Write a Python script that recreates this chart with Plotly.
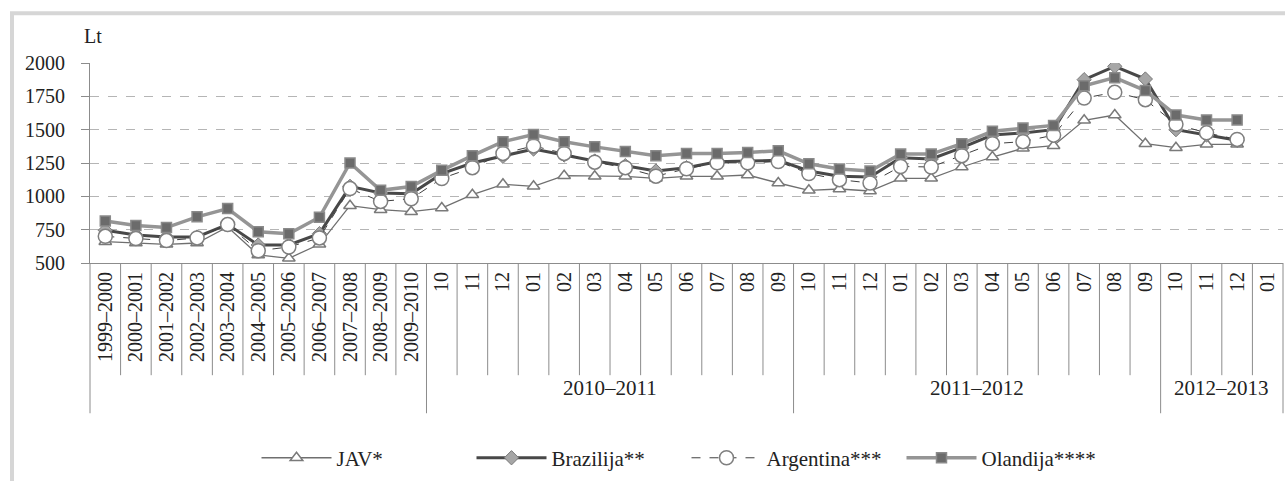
import plotly.graph_objects as go

# categories: annual seasons, then monthly values grouped by season
annual = ["1999–2000", "2000–2001", "2001–2002", "2002–2003", "2003–2004", "2004–2005",
          "2005–2006", "2006–2007", "2007–2008", "2008–2009", "2009–2010"]
months_full = ["10", "11", "12", "01", "02", "03", "04", "05", "06", "07", "08", "09"]
months_part = ["10", "11", "12", "01"]
groups = ["2010–2011", "2011–2012", "2012–2013"]

month_labels = months_full + months_full + months_part
categories = [f"a{i}" for i in range(len(annual))] + [f"m{i}" for i in range(len(month_labels))]
tick_text = annual + month_labels

jav = [660, 650, 640, 650, 770, 560, 535, 640, 930, 900, 885,
       912, 1012, 1090, 1075, 1155, 1150, 1150, 1135, 1150, 1150, 1160, 1100,
       1045, 1055, 1040, 1135, 1135, 1220, 1295, 1360, 1380, 1570, 1610, 1395,
       1365, 1390, 1390, None]
brazilija = [745, 710, 695, 695, 790, 635, 635, 720, 1075, 1025, 1020,
             1170, 1250, 1300, 1355, 1310, 1265, 1230, 1190, 1215, 1260, 1265, 1270,
             1190, 1150, 1145, 1290, 1280, 1365, 1460, 1475, 1500, 1875, 1975, 1880,
             1500, 1460, 1420, None]
argentina = [700, 683, 668, 688, 788, 592, 620, 688, 1058, 962, 982,
             1134, 1215, 1322, 1378, 1322, 1256, 1215, 1151, 1207, 1251, 1251, 1261,
             1171, 1125, 1100, 1224, 1220, 1305, 1395, 1410, 1459, 1737, 1780, 1725,
             1540, 1476, 1427, None]
olandija = [815, 782, 766, 846, 908, 735, 720, 843, 1250, 1045, 1074,
            1195, 1305, 1410, 1463, 1410, 1371, 1337, 1305, 1322, 1322, 1329, 1341,
            1244, 1205, 1190, 1317, 1317, 1395, 1488, 1512, 1532, 1829, 1890, 1793,
            1610, 1573, 1573, None]

FONT = "Liberation Serif, Times New Roman, serif"
GRAY = "#8c8c8c"

fig = go.Figure()

fig.add_trace(go.Scatter(
    x=categories, y=jav, name="JAV*", mode="lines+markers",
    line=dict(color="#6f6f6f", width=1.3),
    marker=dict(symbol="triangle-up", size=11, color="white",
                line=dict(color="#7a7a7a", width=1.5)),
))
fig.add_trace(go.Scatter(
    x=categories, y=brazilija, name="Brazilija**", mode="lines+markers",
    line=dict(color="#484848", width=3),
    marker=dict(symbol="diamond", size=11, color="#a6a6a6",
                line=dict(color="#7a7a7a", width=1)),
))
fig.add_trace(go.Scatter(
    x=categories, y=argentina, name="Argentina***", mode="lines+markers",
    line=dict(color="#404040", width=1, dash="dash"),
    marker=dict(symbol="circle", size=14, color="white",
                line=dict(color="#7f7f7f", width=1.5)),
))
fig.add_trace(go.Scatter(
    x=categories, y=olandija, name="Olandija****", mode="lines+markers",
    line=dict(color="#959595", width=3.5),
    marker=dict(symbol="square", size=10, color="#6b6b6b",
                line=dict(color="#8a8a8a", width=1.5)),
))

# pixel helpers for the 205 px tall plot area (y=63..268 in the page)
def py(pix):
    return (268 - pix) / 205

shapes = []
n = len(categories)
group_edges = {0, len(annual), len(annual) + 12, len(annual) + 24, n}
for i in range(n + 1):
    bottom = py(422) if i in group_edges else py(383)
    if i == 0 or i == n:
        shapes.append(dict(type="line", xref="paper", yref="paper", x0=i / n, x1=i / n,
                           y0=0, y1=bottom, line=dict(color=GRAY, width=1)))
    else:
        shapes.append(dict(type="line", xref="x", yref="paper", x0=i - 0.5, x1=i - 0.5,
                           y0=0, y1=bottom, line=dict(color=GRAY, width=1)))

# outer light frame
shapes.append(dict(type="rect", xref="paper", yref="paper",
                   x0=(12 - 90) / 1193, x1=1.2, y0=-3, y1=py(12),
                   line=dict(color="#d6d6d6", width=4), layer="below"))

annotations = [dict(text="Lt", xref="paper", yref="paper", x=(82 - 90) / 1193, y=py(35),
                    xanchor="left", yanchor="middle", showarrow=False,
                    font=dict(family=FONT, size=20, color="#222"))]
group_centers = [len(annual) + 5.5, len(annual) + 17.5, len(annual) + 25.5]
for g, c in zip(groups, group_centers):
    annotations.append(dict(text=g, xref="x", yref="paper", x=c, y=py(410),
                            showarrow=False, font=dict(family=FONT, size=21, color="#222")))

fig.update_layout(
    width=1285, height=481,
    paper_bgcolor="white", plot_bgcolor="white",
    margin=dict(l=90, r=2, t=63, b=213),
    font=dict(family=FONT, size=20, color="#222"),
    xaxis=dict(type="category", tickmode="array", tickvals=categories, ticktext=tick_text,
               tickangle=-90, showline=True, linecolor=GRAY, showgrid=False,
               ticks="", range=[-0.5, n - 0.5], tickfont=dict(family=FONT, size=20)),
    yaxis=dict(range=[500, 2000], tickvals=[500, 750, 1000, 1250, 1500, 1750, 2000],
               showline=True, linecolor=GRAY, ticks="outside", ticklen=8, tickcolor=GRAY,
               gridcolor="#b5b5b5", griddash="dash", zeroline=False,
               ticklabelstandoff=12, tickfont=dict(family=FONT, size=20)),
    legend=dict(orientation="h", x=0.5, xanchor="center", y=py(468), yanchor="middle",
                font=dict(family=FONT, size=21), itemwidth=70,
                entrywidth=130, entrywidthmode="pixels"),
    shapes=shapes,
    annotations=annotations,
)

fig.write_html("out.html", config={"displayModeBar": False},
               post_script="document.body.style.margin='0';document.body.style.overflow='hidden';")
